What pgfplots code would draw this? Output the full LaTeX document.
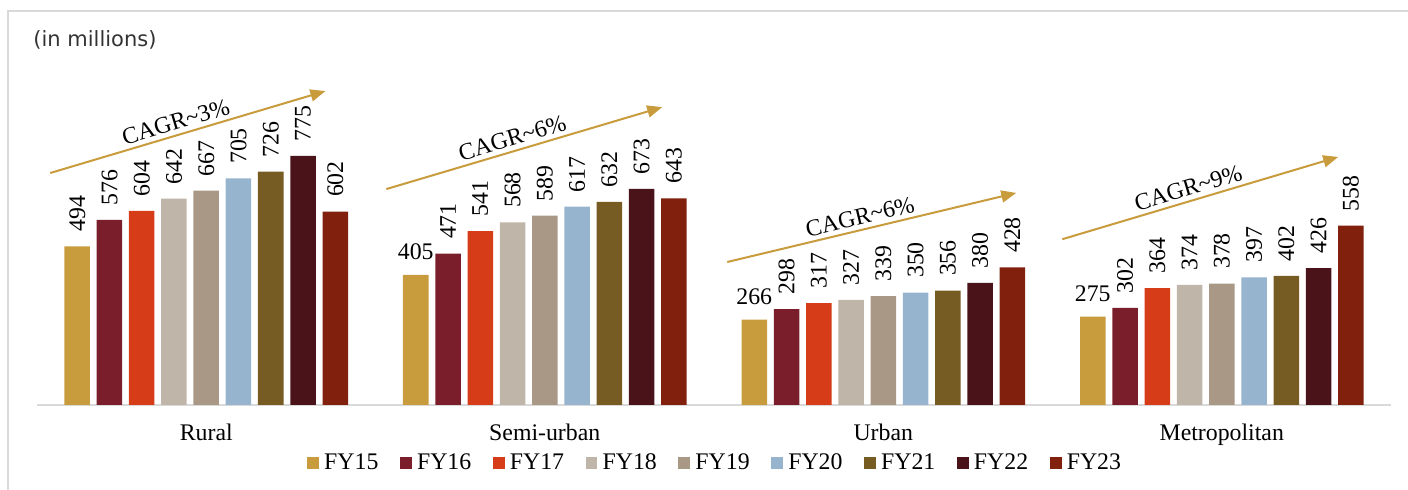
\documentclass[border=0pt]{standalone}
\usepackage{fontspec}
\setmainfont{Liberation Serif}
\newfontfamily\dejavu{DejaVu Sans}
\usepackage{pgfplots}
\pgfplotsset{compat=1.18}
\usepackage{pgfplotstable}
\usetikzlibrary{arrows.meta}

\definecolor{c15}{HTML}{C89B3C}
\definecolor{c16}{HTML}{7B1E2B}
\definecolor{c17}{HTML}{D63C17}
\definecolor{c18}{HTML}{BFB5A8}
\definecolor{c19}{HTML}{A89885}
\definecolor{c20}{HTML}{96B4CE}
\definecolor{c21}{HTML}{765B23}
\definecolor{c22}{HTML}{4A1319}
\definecolor{c23}{HTML}{80200D}
\definecolor{arrowc}{HTML}{C89B3C}

\newcommand\fs{\fontsize{11.9}{14}\selectfont}

\pgfplotstableread{
x FY15 FY16 FY17 FY18 FY19 FY20 FY21 FY22 FY23 rot anc
0 494 576 604 642 667 705 726 775 602 90 180
1 405 471 541 568 589 617 632 673 643 0 270
2 266 298 317 327 339 350 356 380 428 0 270
3 275 302 364 374 378 397 402 426 558 0 270
}\data

\begin{document}
\begin{tikzpicture}
\useasboundingbox (-18.5pt,-42.5pt) rectangle (685.5pt,202.5pt);
\draw[color=black!15, line width=1pt] (-14.5pt,-42.5pt) -- (-14.5pt,197pt) -- (685.5pt,197pt);
\node[anchor=west, font=\dejavu\fontsize{10.5}{12}\selectfont, text=black!80, inner sep=0pt] at (-2pt,182.5pt) {(in millions)};
\begin{axis}[
  at={(0,0)}, anchor=south west,
  scale only axis, width=677pt, height=160.65pt,
  xmin=-0.5, xmax=3.5, ymin=0, ymax=1000,
  enlarge x limits=false,
  ybar=3.375pt, bar width=12.75pt,
  axis x line*=bottom, axis y line=none,
  x axis line style={draw=black!15, line width=0.75pt},
  xtick={0,1,2,3},
  xticklabels={Rural,Semi-urban,Urban,Metropolitan},
  major tick length=0pt,
  ytick=\empty,
  tick label style={font=\fs},
  xticklabel style={yshift=-6pt},
  /pgf/number format/assume math mode=true,
  clip=false,
  nodes near coords,
  every node near coord/.append style={font=\fs, text=black, outer sep=4pt},
  rotlabels/.style={every node near coord/.append style={rotate=90, anchor=west}},
  sqlegend/.style={legend image code/.code={\fill[##1] (0pt,-3pt) rectangle (5.9pt,3.2pt);}},
  legend columns=9,
  legend style={draw=none, at={(0.502,-0.126)}, anchor=north, font=\fs,
    nodes={inner xsep=2.6pt},
    /tikz/every even column/.append style={column sep=8.2pt}},
]
\addplot[fill=c15, draw=none, sqlegend,
  visualization depends on={\thisrow{rot}\as\myrot},
  visualization depends on={\thisrow{anc}\as\myanc},
  every node near coord/.append style={rotate=\myrot, anchor=\myanc}]
  table[x=x,y=FY15]{\data};
\addplot[fill=c16, draw=none, sqlegend, rotlabels] table[x=x,y=FY16]{\data};
\addplot[fill=c17, draw=none, sqlegend, rotlabels] table[x=x,y=FY17]{\data};
\addplot[fill=c18, draw=none, sqlegend, rotlabels] table[x=x,y=FY18]{\data};
\addplot[fill=c19, draw=none, sqlegend, rotlabels] table[x=x,y=FY19]{\data};
\addplot[fill=c20, draw=none, sqlegend, rotlabels] table[x=x,y=FY20]{\data};
\addplot[fill=c21, draw=none, sqlegend, rotlabels] table[x=x,y=FY21]{\data};
\addplot[fill=c22, draw=none, sqlegend, rotlabels] table[x=x,y=FY22]{\data};
\addplot[fill=c23, draw=none, sqlegend, rotlabels] table[x=x,y=FY23]{\data};
\legend{FY15,FY16,FY17,FY18,FY19,FY20,FY21,FY22,FY23}

\draw[arrowc, line width=1pt, -{Triangle[length=7.5pt,width=6pt]}]
  (axis cs:-0.461,722) -- (axis cs:0.352,977)
  node[pos=0.47, above, sloped, font=\fs, text=black, inner sep=2pt] {CAGR\textasciitilde3\%};
\draw[arrowc, line width=1pt, -{Triangle[length=7.5pt,width=6pt]}]
  (axis cs:0.532,672) -- (axis cs:1.347,927)
  node[pos=0.47, above, sloped, font=\fs, text=black, inner sep=2pt] {CAGR\textasciitilde6\%};
\draw[arrowc, line width=1pt, -{Triangle[length=7.5pt,width=6pt]}]
  (axis cs:1.539,445) -- (axis cs:2.393,660)
  node[pos=0.47, above, sloped, font=\fs, text=black, inner sep=2pt] {CAGR\textasciitilde6\%};
\draw[arrowc, line width=1pt, -{Triangle[length=7.5pt,width=6pt]}]
  (axis cs:2.529,516) -- (axis cs:3.344,772)
  node[pos=0.47, above, sloped, font=\fs, text=black, inner sep=2pt] {CAGR\textasciitilde9\%};
\end{axis}
\end{tikzpicture}
\end{document}
